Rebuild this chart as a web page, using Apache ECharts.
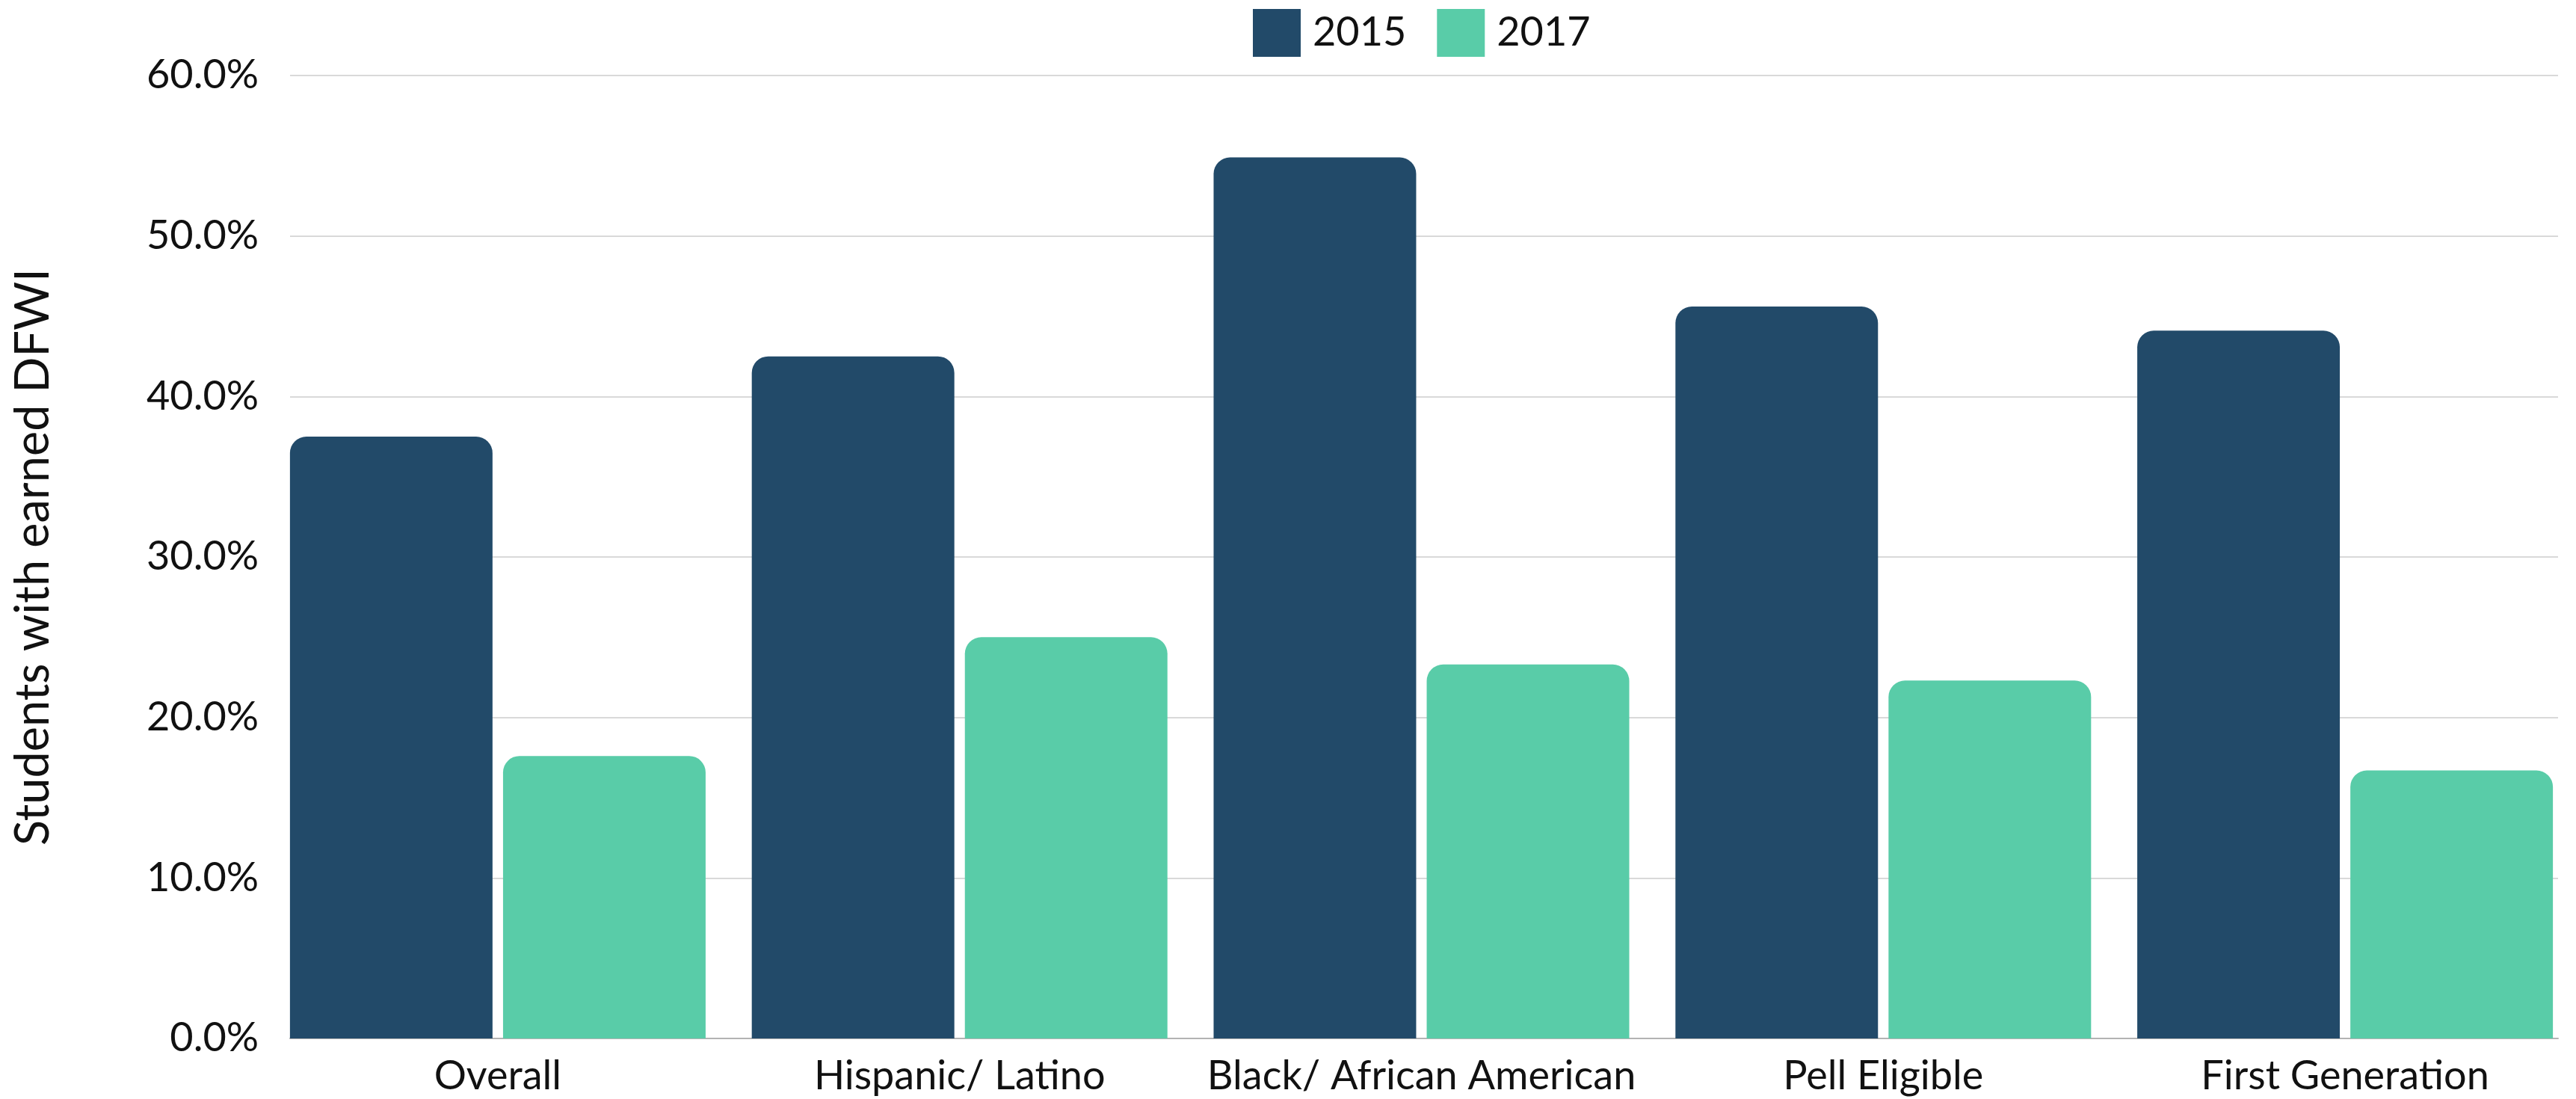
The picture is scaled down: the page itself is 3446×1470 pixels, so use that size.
<!DOCTYPE html>
<html>
<head>
<meta charset="utf-8">
<script src="https://cdn.jsdelivr.net/npm/echarts@6/dist/echarts.min.js"></script>
<style>
  html, body { margin: 0; padding: 0; background: #ffffff; }
  #chart { width: 3446px; height: 1470px; }
</style>
</head>
<body>
<div id="chart"></div>
<script>
const categories = ['Overall', 'Hispanic/ Latino', 'Black/ African American', 'Pell Eligible', 'First Generation'];
const seriesNames = ['2015', '2017'];
const values2015 = [37.5, 42.5, 54.9, 45.6, 44.1];
const values2017 = [17.6, 25.0, 23.3, 22.3, 16.7];
const yMin = 0;
const yMax = 60;
const yInterval = 10;
const yAxisTitle = 'Students with earned DFWI';

const FONT = 'Lato';
const TEXT = '#111111';
const chart = echarts.init(document.getElementById('chart'), null, { renderer: 'canvas' });

const option = {
  backgroundColor: '#ffffff',
  animation: false,
  textStyle: { fontFamily: FONT },
  legend: {
    data: seriesNames,
    top: 12,
    left: 1676,
    padding: 0,
    itemWidth: 64,
    itemHeight: 64,
    itemGap: 41,
    icon: 'rect',
    textStyle: { fontFamily: FONT, fontSize: 54, color: TEXT, padding: [0, 0, 0, 11] }
  },
  grid: [
    { left: 388, width: 3034, top: 101, bottom: 81 },
    { left: 357, width: 3095, top: 101, bottom: 81 }
  ],
  xAxis: [
    {
      gridIndex: 0, type: 'category', data: categories,
      axisLine: { show: true, lineStyle: { color: '#b3b3b3', width: 2 } },
      axisTick: { show: false }, axisLabel: { show: false }, splitLine: { show: false }
    },
    {
      gridIndex: 1, type: 'category', data: categories,
      axisLine: { show: false }, axisTick: { show: false },
      axisLabel: { fontFamily: FONT, fontSize: 54, color: TEXT, margin: 24, interval: 0 }
    }
  ],
  yAxis: [
    {
      gridIndex: 0, type: 'value', min: yMin, max: yMax, interval: yInterval,
      name: yAxisTitle, nameLocation: 'middle', nameGap: 312,
      nameTextStyle: { fontFamily: FONT, fontSize: 63, color: TEXT },
      axisLine: { show: false }, axisTick: { show: false },
      axisLabel: { fontFamily: FONT, fontSize: 54, color: TEXT, margin: 42,
        formatter: v => v.toFixed(1) + '%' },
      splitLine: { show: true, lineStyle: { color: '#d9d9d9', width: 2 } }
    },
    {
      gridIndex: 1, type: 'value', min: yMin, max: yMax, interval: yInterval,
      show: false, splitLine: { show: false }
    }
  ],
  series: [
    {
      name: seriesNames[0], type: 'bar', xAxisIndex: 1, yAxisIndex: 1,
      data: values2015, barCategoryGap: '10%', barGap: '5.2%',
      itemStyle: { color: '#224a69', borderRadius: [22, 22, 0, 0] }
    },
    {
      name: seriesNames[1], type: 'bar', xAxisIndex: 1, yAxisIndex: 1,
      data: values2017, barCategoryGap: '10%', barGap: '5.2%',
      itemStyle: { color: '#59cca8', borderRadius: [22, 22, 0, 0] }
    }
  ]
};
chart.setOption(option);
</script>
</body>
</html>
